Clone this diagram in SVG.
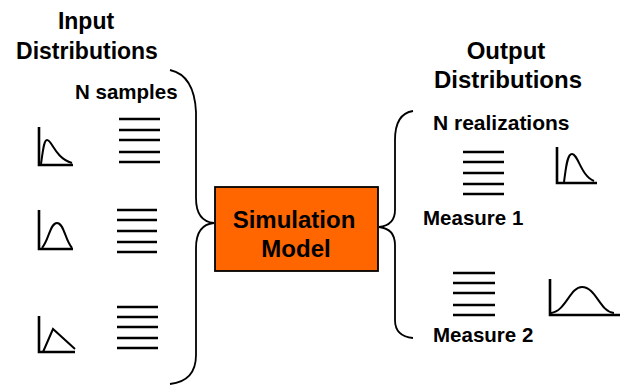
<svg xmlns="http://www.w3.org/2000/svg" width="621" height="385" viewBox="0 0 621 385">
<style>
text{font-family:"Liberation Sans",Arial,sans-serif;font-weight:bold;fill:#000}
.h{font-size:23px}
.h2{font-size:24px}
.l{font-size:20.5px}
.br{fill:none;stroke:#000;stroke-width:1.8}
.ln{stroke:#000;stroke-width:2.6}
.ax{fill:none;stroke:#000;stroke-width:2.6}
.cv{fill:none;stroke:#000;stroke-width:2}
</style>
<rect width="621" height="385" fill="#fff"/>
<g id="labels">
<text class="h" x="86" y="29" text-anchor="middle">Input</text>
<text class="h" x="87" y="59" text-anchor="middle">Distributions</text>
<text class="l" x="75" y="99">N samples</text>
<text class="h2" x="506" y="59" text-anchor="middle">Output</text>
<text class="h2" x="508" y="88" text-anchor="middle">Distributions</text>
<text class="l" x="433" y="130" style="font-size:21px">N realizations</text>
<text class="l" x="423" y="225">Measure 1</text>
<text class="l" x="433" y="342">Measure 2</text>
</g>
<g id="model">
<rect x="215" y="187" width="163" height="84" fill="#FF6600" stroke="#000" stroke-width="1.8"/>
<text class="h2" x="294" y="228" text-anchor="middle">Simulation</text>
<text class="h2" x="296" y="257" text-anchor="middle">Model</text>
</g>
<g id="connectors">
<path class="br" d="M170,70 C188,74 195,90 196,112 L196,198 C196,214 203,222 214,223 C203,224 196,232 196,248 L196,355 C196,372 188,382 170,384"/>
<path class="br" d="M413,111 C400,113 395,125 395,140 L395,210 C395,222 388,226 379,227 C388,228 395,233 395,245 L395,320 C395,332 402,337 413,338"/>
</g>
<g id="input1">
<path class="ax" d="M39,127 L39,165 L73,165"/>
<path class="cv" d="M41,164 C43,150 44,140 47,140 C52,140 55,158 72,163"/>
<g class="ln"><line x1="119" y1="119" x2="160" y2="119"/><line x1="119" y1="130" x2="160" y2="130"/><line x1="119" y1="140" x2="160" y2="140"/><line x1="119" y1="152" x2="160" y2="152"/><line x1="119" y1="162" x2="160" y2="162"/></g>
</g>
<g id="input2">
<path class="ax" d="M39,210 L39,249 L73,249"/>
<path class="cv" d="M42,248 C49,240 50,223 57,223 C64,223 65,240 72,248"/>
<g class="ln"><line x1="117" y1="210" x2="157" y2="210"/><line x1="117" y1="220" x2="157" y2="220"/><line x1="117" y1="231" x2="157" y2="231"/><line x1="117" y1="242" x2="157" y2="242"/><line x1="117" y1="252" x2="157" y2="252"/></g>
</g>
<g id="input3">
<path class="ax" d="M39,316 L39,352 L75,352"/>
<path class="cv" d="M43,352 L53,329 L75,349"/>
<g class="ln"><line x1="117" y1="307" x2="158" y2="307"/><line x1="117" y1="317" x2="158" y2="317"/><line x1="117" y1="327" x2="158" y2="327"/><line x1="117" y1="338" x2="158" y2="338"/><line x1="117" y1="348" x2="158" y2="348"/></g>
</g>
<g id="output1">
<g class="ln"><line x1="463" y1="152" x2="504" y2="152"/><line x1="463" y1="162" x2="504" y2="162"/><line x1="463" y1="173" x2="504" y2="173"/><line x1="463" y1="184" x2="504" y2="184"/><line x1="463" y1="194" x2="504" y2="194"/></g>
<path class="ax" d="M557,147 L557,183 L597,183"/>
<path class="cv" d="M564,182 C566,168 567,154 572,154 C578,154 581,176 594,181"/>
</g>
<g id="output2">
<g class="ln"><line x1="453" y1="273" x2="495" y2="273"/><line x1="453" y1="283" x2="495" y2="283"/><line x1="453" y1="293" x2="495" y2="293"/><line x1="453" y1="305" x2="495" y2="305"/><line x1="453" y1="315" x2="495" y2="315"/></g>
<path class="ax" d="M550,279 L550,315 L620,315"/>
<path class="cv" d="M551,313 C566,311 570,287 582,287 C596,287 600,312 614,313"/>
</g>
</svg>
